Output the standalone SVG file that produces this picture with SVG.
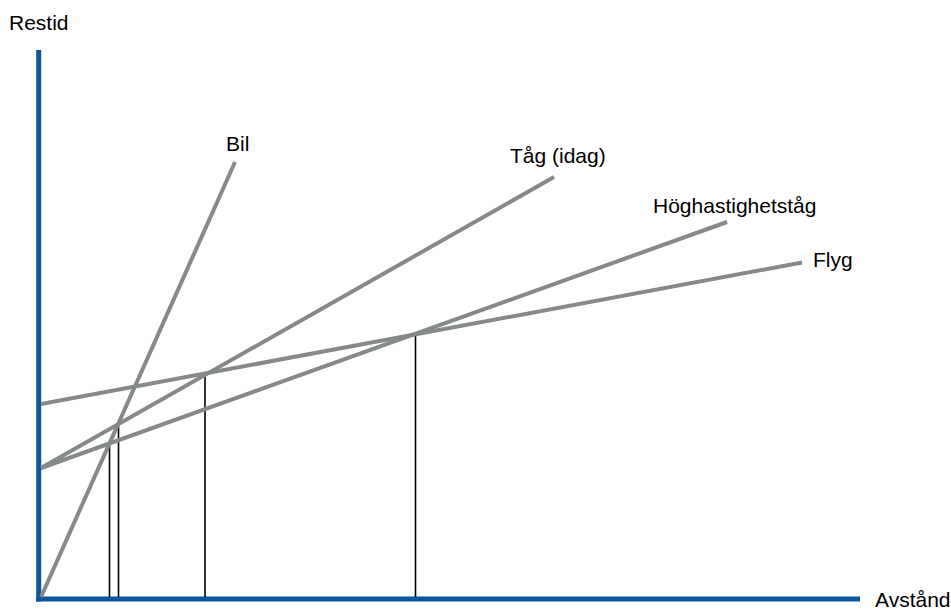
<svg xmlns="http://www.w3.org/2000/svg" width="951" height="610" viewBox="0 0 951 610">
<style>
text{font-family:"Liberation Sans",Arial,sans-serif;font-size:21px;fill:#000}
.axis{stroke:#0b559c;stroke-width:5;fill:none}
.ser{stroke:#858989;stroke-width:4;fill:none;stroke-linecap:butt}
.drop{stroke:#000;stroke-width:1.6;fill:none}
</style>
<rect width="951" height="610" fill="#fff"/>
<g id="axes">
<line class="axis" x1="38.7" y1="50" x2="38.7" y2="601.5"/>
<line class="axis" x1="36.2" y1="599" x2="860" y2="599"/>
<text id="y-label" x="9" y="30">Restid</text>
<text id="x-label" x="875" y="607">Avstånd</text>
</g>
<g id="connectors">
<line class="drop" x1="109.5" y1="444" x2="109.5" y2="597"/>
<line class="drop" x1="118.5" y1="424" x2="118.5" y2="597"/>
<line class="drop" x1="205" y1="373" x2="205" y2="597"/>
<line class="drop" x1="415.5" y1="334" x2="415.5" y2="597"/>
</g>
<g id="bil">
<line class="ser" x1="41" y1="597" x2="235" y2="162"/>
<text x="226" y="151">Bil</text>
</g>
<g id="tag">
<line class="ser" x1="41" y1="468" x2="554" y2="177"/>
<text x="510" y="163">Tåg (idag)</text>
</g>
<g id="hogh">
<line class="ser" x1="41" y1="468" x2="727" y2="222"/>
<text x="653" y="213">Höghastighetståg</text>
</g>
<g id="flyg">
<line class="ser" x1="41" y1="404" x2="802" y2="262.5"/>
<text x="813" y="267">Flyg</text>
</g>
</svg>
